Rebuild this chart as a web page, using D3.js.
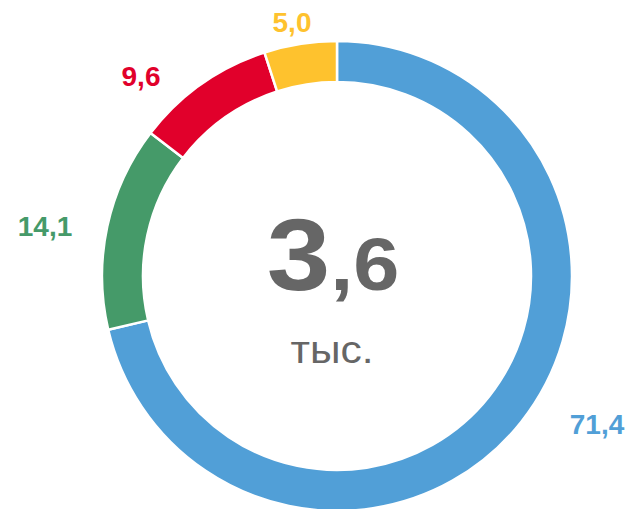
<!DOCTYPE html>
<html><head><meta charset="utf-8">
<script src="https://cdn.jsdelivr.net/npm/d3@7"></script>
<style>html,body{margin:0;padding:0;background:#fff;}svg{display:block;}</style>
</head><body>
<svg id="c" width="631" height="509"></svg>
<script>
const categories = ["A", "B", "C", "D"];
const values = [71.4, 14.1, 9.6, 5.0];
const labels = ["71,4", "14,1", "9,6", "5,0"];
const colors = ["#519fd7", "#459a69", "#e1002b", "#fec22e"];
const totalMain = "3";
const totalDec = ",6";
const totalUnit = "тыс.";

const svg = d3.select("#c");
const cx = 337, cy = 276, rOut = 235, rIn = 194;
const g = svg.append("g").attr("transform", `translate(${cx},${cy})`);
const pie = d3.pie().sort(null).value(d => d)(values);
const arc = d3.arc().innerRadius(rIn).outerRadius(rOut);
g.selectAll("path").data(pie).join("path")
  .attr("d", arc)
  .attr("fill", (d, i) => colors[i])
  .attr("stroke", "#fff").attr("stroke-width", 2.5);

const labelPos = [[597, 434], [45, 236], [141, 86], [292, 32]];
svg.selectAll("text.lbl").data(labels).join("text")
  .attr("class", "lbl")
  .attr("x", (d, i) => labelPos[i][0]).attr("y", (d, i) => labelPos[i][1])
  .attr("text-anchor", "middle")
  .attr("font-family", "Liberation Sans, Arial, sans-serif")
  .attr("font-weight", "bold").attr("font-size", 28)
  .attr("fill", (d, i) => colors[i])
  .text(d => d);

const t = svg.append("text")
  .attr("transform", "translate(333,290) scale(1.12,1)")
  .attr("text-anchor", "middle")
  .attr("font-family", "Liberation Sans, Arial, sans-serif")
  .attr("font-weight", "bold").attr("fill", "#666");
t.append("tspan").attr("font-size", 102).text(totalMain);
t.append("tspan").attr("font-size", 74).text(totalDec);

svg.append("text")
  .attr("transform", "translate(332,363) scale(1.12,1)")
  .attr("text-anchor", "middle")
  .attr("font-family", "Liberation Sans, Arial, sans-serif")
  .attr("font-size", 38).attr("fill", "#666")
  .text(totalUnit);
</script>
</body></html>
